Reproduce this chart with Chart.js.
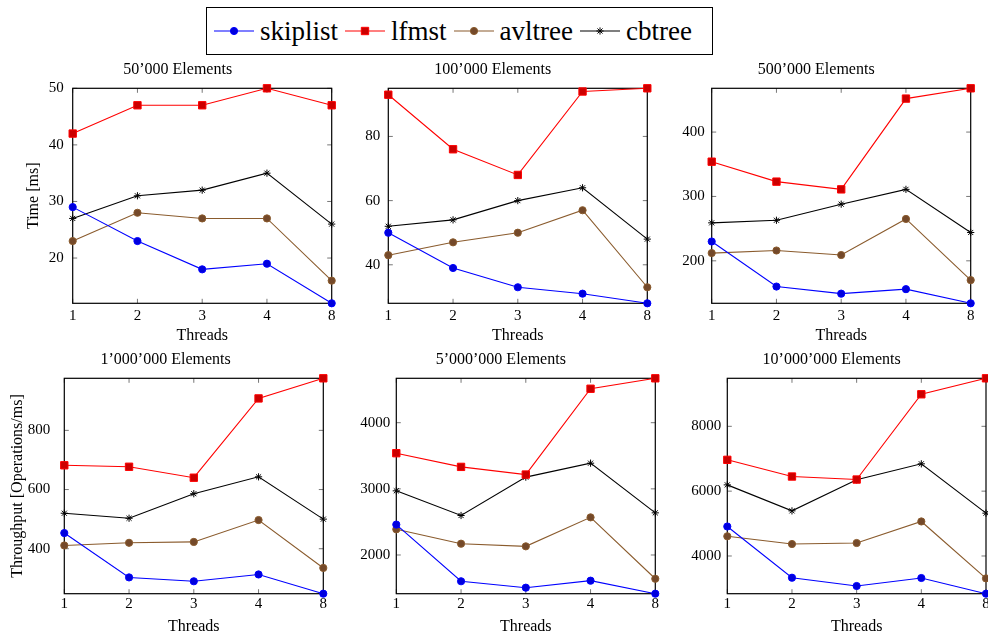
<!DOCTYPE html>
<html>
<head>
<meta charset="utf-8">
<script src="https://cdn.jsdelivr.net/npm/chart.js@4.4.0/dist/chart.umd.min.js"></script>
<style>
  body { margin: 0; width: 988px; height: 634px; overflow: hidden; background: #fff; position: relative; font-family: "Liberation Serif", serif; }
  canvas.panel { position: absolute; left: 0; top: 0; pointer-events: none; }
  #legend { position: absolute; left: 206px; top: 7px; width: 507px; height: 48px; box-sizing: border-box;
            border: 1.3px solid #000; display: flex; align-items: center; padding-left: 6px; font-size: 27px; background: #fff; }
  #legend .item { display: flex; align-items: center; margin-right: 6px; }
  #legend canvas { margin-right: 5px; }
</style>
</head>
<body>
<div id="legend"></div>

<script>
// thread counts on the x axis
const threads = ['1', '2', '3', '4', '8'];

const panelTitles = ['50’000 Elements', '100’000 Elements', '500’000 Elements',
                     '1’000’000 Elements', '5’000’000 Elements', '10’000’000 Elements'];

// one row per panel (top row: time in ms, bottom row: throughput)
const skiplist = [
  [29, 23, 18, 19, 12],
  [50, 39, 33, 31, 28],
  [230, 160, 149, 156, 134],
  [453, 303, 290, 313, 248],
  [2460, 1603, 1506, 1612, 1415],
  [4910, 3330, 3074, 3321, 2837]
];
const lfmst = [
  [42, 47, 47, 50, 47],
  [93, 76, 68, 94, 95],
  [354, 323, 311, 452, 468],
  [682, 677, 640, 908, 976],
  [3539, 3332, 3216, 4513, 4671],
  [6966, 6451, 6358, 8988, 9481]
];
const avltree = [
  [23, 28, 27, 27, 16],
  [43, 47, 50, 57, 33],
  [212, 216, 209, 265, 170],
  [411, 420, 423, 497, 335],
  [2388, 2171, 2131, 2569, 1641],
  [4608, 4370, 4401, 5065, 3309]
];
const cbtree = [
  [27, 31, 32, 35, 26],
  [52, 54, 60, 64, 48],
  [259, 263, 288, 311, 244],
  [520, 503, 586, 643, 500],
  [2970, 2597, 3177, 3388, 2637],
  [6194, 5392, 6349, 6843, 5321]
];

// y tick spacing per panel
const yStep = [10, 20, 100, 200, 1000, 2000];
const yTitles = ['Time [ms]', '', '', 'Throughput [Operations/ms]', '', ''];

const seriesNames = ['skiplist', 'lfmst', 'avltree', 'cbtree'];
const seriesValues = [skiplist, lfmst, avltree, cbtree];
const lineColor = ['#0000ff', '#ff0000', '#8a5b2d', '#000000'];
const markFill = ['#0000dd', '#cc0000', '#74492a', '#000000'];
const markStyle = ['circle', 'rect', 'circle', 'star'];
const markRadius = [3.6, 5.2, 3.6, 3.6];

// plot area of every panel: left, top, right, bottom
const panelBox = [
  [72.7, 88.3, 331.7, 303.3], [388.3, 88.3, 647.3, 303.3], [711.7, 88.3, 970.7, 303.3],
  [64.3, 378.3, 323.3, 593.7], [396.3, 378.3, 655.3, 593.7], [727.3, 378.3, 986, 593.7]
];
const yAxisW = [49, 50, 50, 56.4, 50, 50];
const yTickPad = [9, 8, 7, 14, 6, 6];
const xTickPad = [4, 4, 4, 1.5, 1.5, 1.5];
const CW = 1010, CH = 650, XH = 42.5;

Chart.defaults.font.family = '"Liberation Serif", serif';
Chart.defaults.color = '#000';

// box around the plot with small inward tick marks on all sides
const framePlugin = {
  id: 'frame',
  beforeDatasetsDraw(chart) {
    const { ctx, chartArea: a, scales: { x, y } } = chart;
    ctx.save();
    ctx.strokeStyle = '#777';
    ctx.lineWidth = 1;
    ctx.beginPath();
    x.ticks.forEach((t, k) => {
      const px = x.getPixelForTick(k);
      ctx.moveTo(px, a.bottom); ctx.lineTo(px, a.bottom - 4.5);
      ctx.moveTo(px, a.top); ctx.lineTo(px, a.top + 4.5);
    });
    y.ticks.forEach((t, k) => {
      const py = y.getPixelForTick(k);
      ctx.moveTo(a.left, py); ctx.lineTo(a.left + 4.5, py);
      ctx.moveTo(a.right, py); ctx.lineTo(a.right - 4.5, py);
    });
    ctx.stroke();
    ctx.strokeStyle = '#000';
    ctx.lineWidth = 1.2;
    ctx.strokeRect(a.left, a.top, a.right - a.left, a.bottom - a.top);
    ctx.restore();
  }
};

panelTitles.forEach((title, i) => {
  const [L, T, R, B] = panelBox[i];
  const canvas = document.createElement('canvas');
  canvas.className = 'panel';
  canvas.width = CW;
  canvas.height = CH;
  document.body.appendChild(canvas);

  const datasets = seriesNames.map((name, s) => ({
    label: name,
    data: seriesValues[s][i],
    borderColor: lineColor[s],
    borderWidth: 1.1,
    pointStyle: markStyle[s],
    pointRadius: markRadius[s],
    pointBackgroundColor: markFill[s],
    pointBorderColor: lineColor[s],
    pointBorderWidth: 1,
    tension: 0,
    clip: false
  }));

  new Chart(canvas, {
    type: 'line',
    data: { labels: threads, datasets: datasets },
    plugins: [framePlugin],
    options: {
      responsive: false,
      animation: false,
      events: [],
      layout: {
        padding: { left: L - yAxisW[i], right: CW - R, top: T - 27.9, bottom: CH - B - XH }
      },
      plugins: {
        legend: { display: false },
        tooltip: { enabled: false },
        title: {
          display: true,
          text: title,
          font: { size: 16, weight: 'normal' },
          padding: { top: 0, bottom: 8.7 }
        }
      },
      scales: {
        x: {
          type: 'category',
          offset: false,
          grid: { display: false, drawTicks: false },
          border: { display: false },
          ticks: { font: { size: 15 }, padding: xTickPad[i], maxRotation: 0, autoSkip: false },
          title: { display: true, text: 'Threads', font: { size: 16 }, padding: 0 },
          afterFit: s => { s.height = XH; }
        },
        y: {
          type: 'linear',
          bounds: 'data',
          grid: { display: false, drawTicks: false },
          border: { display: false },
          ticks: { font: { size: 15 }, padding: yTickPad[i], callback: v => String(v) },
          // labelled ticks only at whole multiples of the step, inside the data range
          afterBuildTicks: s => {
            const step = yStep[i];
            const ticks = [];
            for (let v = Math.ceil(s.min / step) * step; v <= s.max + 1e-9; v += step) ticks.push({ value: v });
            s.ticks = ticks;
          },
          title: { display: yTitles[i] !== '', text: yTitles[i], font: { size: 16 }, padding: 0 },
          afterFit: s => { s.width = yAxisW[i]; }
        }
      }
    }
  });
});

// shared legend: line sample with the series marker, then the name
const legend = document.getElementById('legend');
seriesNames.forEach((name, s) => {
  const item = document.createElement('div');
  item.className = 'item';
  const c = document.createElement('canvas');
  c.width = 42; c.height = 24;
  const g = c.getContext('2d');
  g.strokeStyle = lineColor[s];
  g.lineWidth = 1.2;
  g.beginPath(); g.moveTo(1, 12); g.lineTo(41, 12); g.stroke();
  g.fillStyle = markFill[s];
  g.lineWidth = 1;
  Chart.helpers.drawPoint(g, { pointStyle: markStyle[s], radius: markRadius[s], borderWidth: 1, rotation: 0 }, 21, 12);
  const label = document.createElement('span');
  label.textContent = name;
  item.appendChild(c);
  item.appendChild(label);
  legend.appendChild(item);
});
</script>
</body>
</html>
